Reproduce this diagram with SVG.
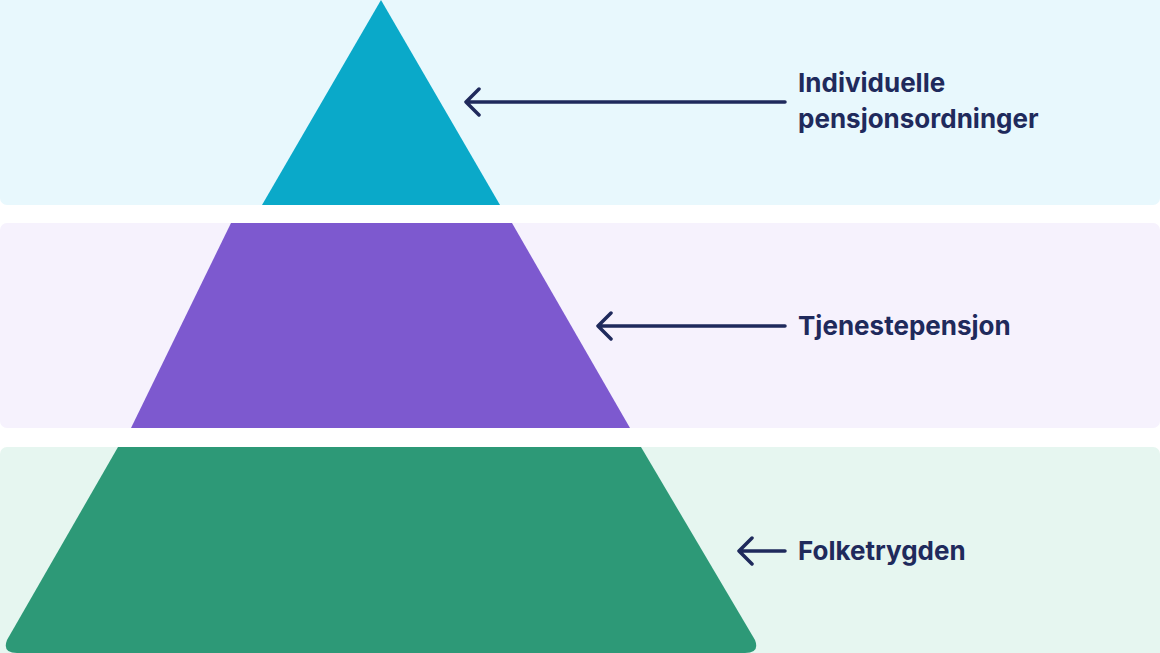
<svg xmlns="http://www.w3.org/2000/svg" width="1160" height="653" viewBox="0 0 1160 653">
<style>
.t{font-family:"Inter","Liberation Sans",sans-serif;font-weight:700;font-size:26px;fill:#1f2a5c}
.a{stroke:#1f2a5c;stroke-width:3.5;fill:none;stroke-linecap:round;stroke-linejoin:round}
</style>
<rect width="1160" height="653" fill="#ffffff"/>
<rect x="0" y="-8" width="1160" height="213" rx="7" fill="#e8f8fd"/>
<rect x="0" y="223" width="1160" height="205" rx="7" fill="#f6f2fd"/>
<rect x="0" y="447" width="1160" height="214" rx="7" fill="#e6f6f0"/>
<g id="tier1"><polygon points="381,0 500,205 262,205" fill="#0aa9c9"/></g>
<g id="tier2"><polygon points="231,223 512,223 630,428 131,428" fill="#7d59cf"/></g>
<g id="tier3"><path d="M118,447 L641,447 L755,640 Q760,653 745,653 L17,653 Q2,653 7,640 Z" fill="#2d9977"/></g>
<g id="connectors">
<path class="a" d="M785,102 H467 M479,89 L466,102 L479,115"/>
<path class="a" d="M785,326 H599 M611,313 L598,326 L611,339"/>
<path class="a" d="M785,551 H740 M752,538 L739,551 L752,564"/>
</g>
<g id="label1"><text class="t" x="798" y="92">Individuelle</text><text class="t" x="798" y="128">pensjonsordninger</text></g>
<g id="label2"><text class="t" x="798" y="335">Tjenestepensjon</text></g>
<g id="label3"><text class="t" x="798" y="560">Folketrygden</text></g>
</svg>
